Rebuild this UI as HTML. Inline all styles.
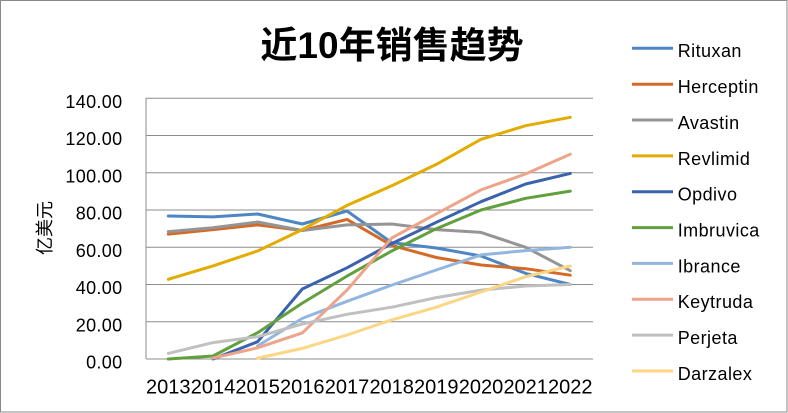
<!DOCTYPE html>
<html><head><meta charset="utf-8"><style>
html,body{margin:0;padding:0;background:#fff;}
svg{display:block;}
text{font-family:"Liberation Sans","Noto Sans CJK SC",sans-serif;fill:#000;}
</style></head><body>
<svg width="788" height="413" viewBox="0 0 788 413" xmlns="http://www.w3.org/2000/svg">
<rect x="0.5" y="0.5" width="786.5" height="411.5" fill="#fff" stroke="#8a8a8a" stroke-width="1"/>
<text x="392" y="58" text-anchor="middle" font-size="37" font-weight="bold">近10年销售趋势</text>
<g stroke="#8c8c8c" stroke-width="1" fill="none">
<line x1="146" y1="98.3" x2="593" y2="98.3"/>
<line x1="146" y1="135.5" x2="593" y2="135.5"/>
<line x1="146" y1="172.8" x2="593" y2="172.8"/>
<line x1="146" y1="210" x2="593" y2="210"/>
<line x1="146" y1="247.3" x2="593" y2="247.3"/>
<line x1="146" y1="284.5" x2="593" y2="284.5"/>
<line x1="146" y1="321.8" x2="593" y2="321.8"/>
<line x1="146" y1="359" x2="593" y2="359"/>
<line x1="146" y1="98.3" x2="146" y2="359"/>
</g>
<g font-size="18" text-anchor="end" letter-spacing="0.35">
<text x="122.5" y="108">140.00</text>
<text x="122.5" y="145.2">120.00</text>
<text x="122.5" y="182.5">100.00</text>
<text x="122.5" y="219.7">80.00</text>
<text x="122.5" y="257">60.00</text>
<text x="122.5" y="294.2">40.00</text>
<text x="122.5" y="331.5">20.00</text>
<text x="122.5" y="368.7">0.00</text>
</g>
<text transform="translate(44,228) rotate(-90)" text-anchor="middle" dominant-baseline="central" font-size="18" style='font-family:"Noto Sans CJK SC",sans-serif'>亿美元</text>
<g font-size="20" text-anchor="middle">
<text x="168.3" y="393.3">2013</text>
<text x="213" y="393.3">2014</text>
<text x="257.6" y="393.3">2015</text>
<text x="302.3" y="393.3">2016</text>
<text x="347" y="393.3">2017</text>
<text x="391.7" y="393.3">2018</text>
<text x="436.3" y="393.3">2019</text>
<text x="481" y="393.3">2020</text>
<text x="525.7" y="393.3">2021</text>
<text x="570.3" y="393.3">2022</text>
</g>
<g fill="none" stroke-width="3" stroke-linejoin="round" stroke-linecap="round">
<polyline stroke="#4e86c3" points="168.3,216 213,216.9 257.6,214 302.3,224 347,211 391.7,242.6 436.3,248 481,256 525.7,273.4 570.3,284.5"/>
<polyline stroke="#d46a27" points="168.3,234.1 213,229.6 257.6,224.9 302.3,230.5 347,219.4 391.7,245.4 436.3,257.5 481,265 525.7,268.7 570.3,275.2"/>
<polyline stroke="#959595" points="168.3,231.6 213,227.7 257.6,222 302.3,230.5 347,224.9 391.7,224 436.3,229.6 481,232.4 525.7,247.3 570.3,270.7"/>
<polyline stroke="#e2ac00" points="168.3,279.3 213,265.9 257.6,251 302.3,229.6 347,205.4 391.7,185.8 436.3,164.4 481,139.3 525.7,125.7 570.3,117.3"/>
<polyline stroke="#3a62ad" points="213,359 257.6,341.7 302.3,289 347,267.8 391.7,243.6 436.3,222.3 481,201.7 525.7,184 570.3,173.4"/>
<polyline stroke="#62a03d" points="168.3,359 213,356 257.6,332.7 302.3,303.1 347,276.1 391.7,251 436.3,228.7 481,210 525.7,198.3 570.3,191.1"/>
<polyline stroke="#93b6df" points="257.6,346 302.3,318.4 347,301.3 391.7,285.1 436.3,270 481,254.9 525.7,250.6 570.3,247.3"/>
<polyline stroke="#eea48a" points="213,358.1 257.6,347.8 302.3,332.9 347,290.1 391.7,238 436.3,213.8 481,189.9 525.7,173.9 570.3,154.2"/>
<polyline stroke="#c0c0c0" points="168.3,353.4 213,342.6 257.6,336.7 302.3,324 347,314.3 391.7,307.2 436.3,297.6 481,290.1 525.7,286 570.3,284.5"/>
<polyline stroke="#fcd585" points="257.6,358.1 302.3,348.4 347,335 391.7,319.9 436.3,307.2 481,292 525.7,276.7 570.3,265.9"/>
</g>
<g stroke-width="3">
<line x1="632" y1="48.3" x2="673" y2="48.3" stroke="#4e86c3"/>
<line x1="632" y1="84.2" x2="673" y2="84.2" stroke="#d46a27"/>
<line x1="632" y1="120" x2="673" y2="120" stroke="#959595"/>
<line x1="632" y1="155.9" x2="673" y2="155.9" stroke="#e2ac00"/>
<line x1="632" y1="191.7" x2="673" y2="191.7" stroke="#3a62ad"/>
<line x1="632" y1="227.6" x2="673" y2="227.6" stroke="#62a03d"/>
<line x1="632" y1="263.4" x2="673" y2="263.4" stroke="#93b6df"/>
<line x1="632" y1="299.3" x2="673" y2="299.3" stroke="#eea48a"/>
<line x1="632" y1="335.1" x2="673" y2="335.1" stroke="#c0c0c0"/>
<line x1="632" y1="371" x2="673" y2="371" stroke="#fcd585"/>
</g>
<g font-size="18" letter-spacing="0.45">
<text x="677.7" y="57.2">Rituxan</text>
<text x="677.7" y="93.1">Herceptin</text>
<text x="677.7" y="128.9">Avastin</text>
<text x="677.7" y="164.8">Revlimid</text>
<text x="677.7" y="200.6">Opdivo</text>
<text x="677.7" y="236.5">Imbruvica</text>
<text x="677.7" y="272.3">Ibrance</text>
<text x="677.7" y="308.2">Keytruda</text>
<text x="677.7" y="344">Perjeta</text>
<text x="677.7" y="379.9">Darzalex</text>
</g>
</svg>
</body></html>
